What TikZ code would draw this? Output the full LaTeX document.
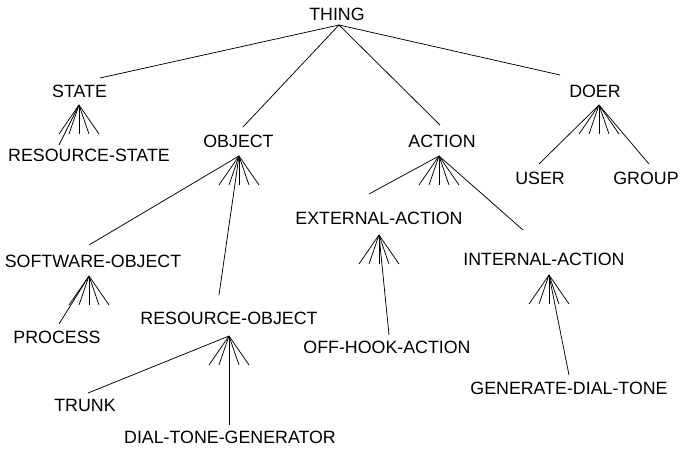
\documentclass[tikz,border=0pt]{standalone}
\usepackage{fontspec}
\setmainfont{Liberation Sans}
\begin{document}
\begin{tikzpicture}[x=1pt,y=-1pt,
  lbl/.style={inner sep=0pt,anchor=center,font=\fontsize{17.8}{20}\selectfont},
  link/.style={line width=0.75pt,black},
  fanline/.style={line width=0.75pt,black}]
\useasboundingbox (0,0) rectangle (681,449);
% labels
\node[lbl] (thing) at (337,14) {THING};
\node[lbl] (state) at (79.5,91) {STATE};
\node[lbl] (rstate) at (89,155) {RESOURCE-STATE};
\node[lbl] (object) at (238.5,141) {OBJECT};
\node[lbl] (action) at (442,141) {ACTION};
\node[lbl] (doer) at (595,91) {DOER};
\node[lbl] (user) at (540,178) {USER};
\node[lbl] (group) at (646,178) {GROUP};
\node[lbl] (swobj) at (93,261) {SOFTWARE-OBJECT};
\node[lbl] (process) at (57,337) {PROCESS};
\node[lbl] (robj) at (229,318) {RESOURCE-OBJECT};
\node[lbl] (trunk) at (85,405) {TRUNK};
\node[lbl] (dtg) at (230,437) {DIAL-TONE-GENERATOR};
\node[lbl] (ext) at (379,218) {EXTERNAL-ACTION};
\node[lbl] (offhook) at (387,347) {OFF-HOOK-ACTION};
\node[lbl] (int) at (544,259) {INTERNAL-ACTION};
\node[lbl] (gdt) at (569,388) {GENERATE-DIAL-TONE};
% apex points
\coordinate (thing-a) at (339,25);
\coordinate (state-a) at (79,105);
\coordinate (object-a) at (239,156);
\coordinate (action-a) at (439,156);
\coordinate (doer-a) at (599,105);
\coordinate (swobj-a) at (89,276);
\coordinate (robj-a) at (229,336);
\coordinate (ext-a) at (379,235);
\coordinate (int-a) at (549,275);
% child line ends
\coordinate (state-t) at (100,78);
\coordinate (object-t) at (243,127);
\coordinate (action-t) at (440,125);
\coordinate (doer-t) at (560,75);
\coordinate (rstate-t) at (59,145);
\coordinate (swobj-t) at (89,245);
\coordinate (robj-t) at (219,295);
\coordinate (ext-t) at (369,194);
\coordinate (int-t) at (523,230);
\coordinate (user-t) at (539,164);
\coordinate (group-t) at (649,164);
\coordinate (process-t) at (59,324);
\coordinate (trunk-t) at (88,393);
\coordinate (dtg-t) at (229,425);
\coordinate (offhook-t) at (389,335);
\coordinate (gdt-t) at (569,375);
% connectors
\draw[link] (thing-a) -- (state-t);
\draw[link] (thing-a) -- (object-t);
\draw[link] (thing-a) -- (action-t);
\draw[link] (thing-a) -- (doer-t);
\draw[link] (state-a) -- (rstate-t);
\draw[link] (object-a) -- (swobj-t);
\draw[link] (object-a) -- (robj-t);
\draw[link] (action-a) -- (ext-t);
\draw[link] (action-a) -- (int-t);
\draw[link] (doer-a) -- (user-t);
\draw[link] (doer-a) -- (group-t);
\draw[link] (swobj-a) -- (process-t);
\draw[link] (robj-a) -- (trunk-t);
\draw[link] (robj-a) -- (dtg-t);
\draw[link] (ext-a) -- (offhook-t);
\draw[link] (int-a) -- (gdt-t);
% fans
\foreach \a in {state-a,object-a,action-a,doer-a,swobj-a,robj-a,ext-a,int-a}{
  \foreach \d in {-20,-10,0,10,20}{
    \draw[fanline] (\a) -- ++(\d,29);
  }
}
\end{tikzpicture}
\end{document}
